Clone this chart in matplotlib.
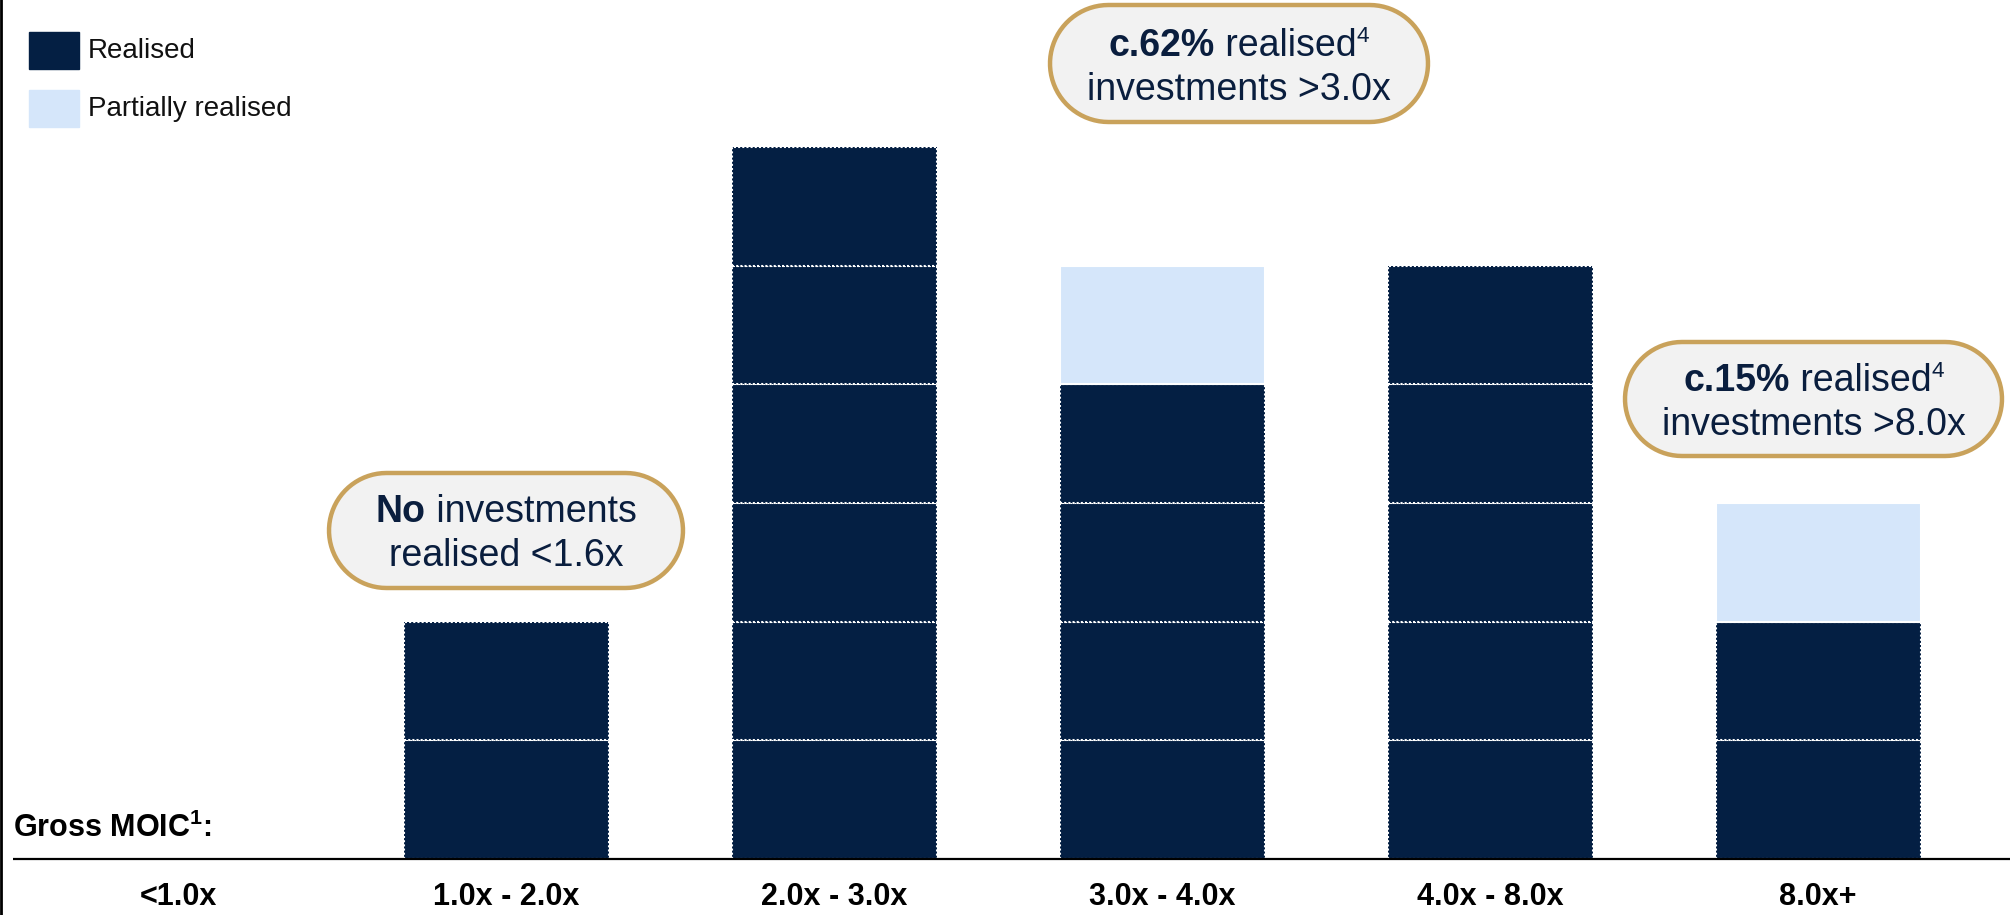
import matplotlib
matplotlib.use('Agg')
import matplotlib.pyplot as plt
from matplotlib.patches import Polygon, Rectangle
import numpy as np

plt.rcParams['font.family'] = ['Liberation Sans', 'DejaVu Sans']
plt.rcParams['mathtext.fontset'] = 'custom'
plt.rcParams['mathtext.rm'] = 'Liberation Sans'
plt.rcParams['mathtext.bf'] = 'Liberation Sans:bold'
plt.rcParams['mathtext.it'] = 'Liberation Sans:italic'

# data
categories = ['<1.0x', '1.0x - 2.0x', '2.0x - 3.0x', '3.0x - 4.0x', '4.0x - 8.0x', '8.0x+']
realised = [0, 2, 6, 4, 5, 2]
partial = [0, 0, 0, 1, 0, 1]

navy = '#041f43'
light = '#d5e6fa'
gold = '#c9a25b'
boxfill = '#f2f2f2'
txtnavy = '#0a1e3e'

W, H = 2010, 915
fig = plt.figure(figsize=(W / 100, H / 100), dpi=100)

# main axes: category units in x, block counts in y
ax = fig.add_axes([0, 0, 1, 1])
x0_px, dx_px = 178, 328       # first category centre, spacing
base_px, unit_px = 859, 118.7  # baseline, one block
ax.set_xlim(-x0_px / dx_px, (W - x0_px) / dx_px)
ax.set_ylim(-(H - base_px) / unit_px, base_px / unit_px)
ax.axis('off')

xs = list(range(len(categories)))
bw = 0.625
for k in range(max(realised)):
    for i in xs:
        if realised[i] > k:
            ax.bar(i, 1, bottom=k, width=bw, color=navy, edgecolor='white',
                   linewidth=1.5, linestyle=(0, (1, 1)))
for i in xs:
    if partial[i]:
        ax.bar(i, partial[i], bottom=realised[i], width=bw, color=light,
               edgecolor='white', linewidth=1.5)

# baseline
ax.plot([-x0_px / dx_px + 13 / dx_px, (W - x0_px) / dx_px], [0, 0],
        color='black', lw=1.6, solid_capstyle='butt')

for i, c in enumerate(categories):
    ax.text(i, -38 / unit_px, c, ha='center', va='center', fontsize=22,
            fontweight='bold', color='black')

ax.text(-x0_px / dx_px + 13 / dx_px, 31 / unit_px, r'Gross MOIC$^{\mathbf{1}}$:',
        ha='left', va='center', fontsize=22, fontweight='bold', color='black')

# overlay for legend and callouts (pixel layout)
ov = fig.add_axes([0, 0, 1, 1])
ov.set_xlim(0, W)
ov.set_ylim(H, 0)
ov.axis('off')

ov.plot([1, 1], [0, H], color='black', lw=2)

ov.add_patch(Rectangle((29, 32), 50, 37, color=navy))
ov.add_patch(Rectangle((29, 90), 50, 37, color=light))
ov.text(88, 51, 'Realised', ha='left', va='center', fontsize=20, color='#111111')
ov.text(88, 109, 'Partially realised', ha='left', va='center', fontsize=20, color='#111111')


def pill(bx, by, bwid, bh):
    r = bh / 2
    cy = by + r
    t = np.linspace(np.pi / 2, 3 * np.pi / 2, 40)
    left = np.column_stack([bx + r + r * np.cos(t), cy - r * np.sin(t)])
    t2 = np.linspace(-np.pi / 2, np.pi / 2, 40)
    right = np.column_stack([bx + bwid - r + r * np.cos(t2), cy - r * np.sin(t2)])
    return Polygon(np.vstack([left, right]), closed=True, facecolor=boxfill,
                   edgecolor=gold, lw=3.2)


renderer = fig.canvas.get_renderer()


def rich_line(cx, base_y, parts, size=27):
    # parts: (text, weight, superscript?)
    txts = []
    for s, wt, sup in parts:
        fs = size * 0.6 if sup else size
        t = ov.text(0, base_y - (14 if sup else 0), s, ha='left', va='baseline',
                    fontsize=fs, fontweight=wt, color=txtnavy)
        txts.append(t)
    widths = [t.get_window_extent(renderer).width for t in txts]
    x = cx - sum(widths) / 2
    for t, w in zip(txts, widths):
        t.set_x(x)
        x += w


callouts = [
    (329, 473, 354, 115, [('No', 'bold', False), (' investments', 'normal', False)],
     'realised <1.6x'),
    (1050, 5, 378, 117, [('c.62%', 'bold', False), (' realised', 'normal', False),
                         ('4', 'normal', True)], 'investments >3.0x'),
    (1625, 342, 377, 114, [('c.15%', 'bold', False), (' realised', 'normal', False),
                           ('4', 'normal', True)], 'investments >8.0x'),
]
for bx, by, bwid, bh, l1, l2 in callouts:
    ov.add_patch(pill(bx, by, bwid, bh))
    cx, cy = bx + bwid / 2, by + bh / 2
    rich_line(cx, cy - 21 + 13, l1)
    ov.text(cx, cy + 23 + 13, l2, ha='center', va='baseline', fontsize=27, color=txtnavy)

fig.savefig('out.png', dpi=100)
